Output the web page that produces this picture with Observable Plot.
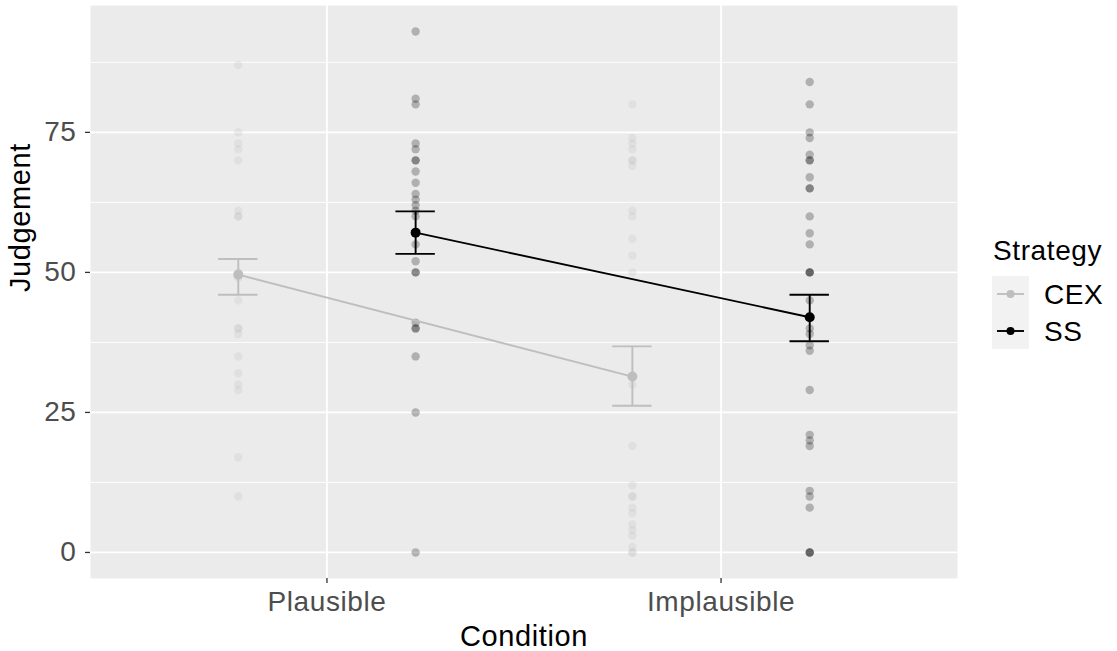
<!DOCTYPE html>
<html><head><meta charset="utf-8">
<script src="https://cdn.jsdelivr.net/npm/d3@7"></script>
<script src="https://cdn.jsdelivr.net/npm/@observablehq/plot@0.6"></script>
<style>
html,body{margin:0;padding:0;background:#fff}
#wrap{position:relative;width:1117px;height:651px;font-family:"Liberation Sans",Arial,sans-serif}
#wrap svg text{letter-spacing:0.6px}
#legend{position:absolute;left:960px;top:220px}
</style></head><body><div id="wrap"></div>
<script>
// ---- data ----
const conditions = ["Plausible", "Implausible"];
const strategies = ["CEX", "SS"];
const strategyColors = ["#bebebe", "#000000"];
const yTicks = [0, 25, 50, 75];
const yMinor = [12.5, 37.5, 62.5, 87.5];

// individual judgements
const cexPlausible   = [87, 75, 73, 72, 70, 61, 60, 60, 50, 49, 45, 40, 40, 39, 35, 32, 30, 29, 17, 10];
const ssPlausible    = [93, 81, 80, 73, 72, 70, 70, 68, 66, 64, 63, 62, 61, 60, 55, 52, 50, 50, 41, 40, 40, 35, 25, 0];
const cexImplausible = [80, 74, 73, 72, 70, 70, 69, 61, 60, 56, 53, 50, 30, 19, 12, 10, 10, 8, 7, 5, 4, 3, 1, 0, 0];
const ssImplausible  = [84, 80, 75, 74, 71, 70, 70, 67, 65, 65, 60, 57, 55, 50, 50, 50, 45, 40, 39, 37, 36, 29, 21, 20, 19, 11, 10, 8, 0, 0, 0];

// summary: mean with error bar limits, per strategy [Plausible, Implausible]
const cexMean = [49.6, 31.4];
const cexLow  = [46.0, 26.2];
const cexHigh = [52.4, 36.8];
const ssMean  = [57.1, 42.0];
const ssLow   = [53.3, 37.7];
const ssHigh  = [60.9, 46.0];

// ---- build tables ----
const dodge = 0.225;     // position_dodge(0.9) with two groups
const capHalf = 0.05;    // errorbar width 0.1
const xPos = (cond, strat) => conditions.indexOf(cond) + 1 + (strat === "CEX" ? -dodge : dodge);

const rawSets = [
  ["Plausible", "CEX", cexPlausible],
  ["Plausible", "SS", ssPlausible],
  ["Implausible", "CEX", cexImplausible],
  ["Implausible", "SS", ssImplausible]
];
const raw = rawSets.flatMap(([condition, strategy, vals]) =>
  vals.map(v => ({condition, strategy, value: v, x: xPos(condition, strategy)})));

const summary = [];
const sumSets = {CEX: [cexMean, cexLow, cexHigh], SS: [ssMean, ssLow, ssHigh]};
for (const s of strategies) {
  conditions.forEach((c, i) => {
    const [m, lo, hi] = sumSets[s];
    summary.push({condition: c, strategy: s, mean: m[i], lo: lo[i], hi: hi[i], x: xPos(c, s)});
  });
}

const chart = Plot.plot({
  width: 1117, height: 651,
  marginLeft: 90, marginRight: 160, marginTop: 5, marginBottom: 73,
  style: {fontFamily: "Liberation Sans, Arial, sans-serif", fontSize: "28px", background: "transparent", overflow: "visible"},
  x: {type: "linear", domain: [0.4, 2.6], axis: null},
  y: {domain: [-4.65, 97.65], axis: null},
  color: {domain: strategies, range: strategyColors},
  marks: [
    Plot.frame({fill: "#ebebeb", stroke: null}),
    Plot.ruleY(yMinor, {stroke: "#ffffff", strokeWidth: 0.9}),
    Plot.ruleY(yTicks, {stroke: "#ffffff", strokeWidth: 1.8}),
    Plot.ruleX([1, 2], {stroke: "#ffffff", strokeWidth: 1.8}),
    Plot.axisY({ticks: yTicks, tickSize: 5, tickPadding: 9, label: null, stroke: "#333333", fill: "#4d4d4d", strokeWidth: 1.3}),
    Plot.axisX({ticks: [1, 2], tickFormat: i => conditions[i - 1], tickSize: 5, tickPadding: 8, label: null, stroke: "#333333", fill: "#4d4d4d", strokeWidth: 1.3}),
    Plot.dot(raw, {x: "x", y: "value", r: 4.2, fill: "strategy", fillOpacity: 0.25, stroke: null}),
    Plot.line(summary, {x: "x", y: "mean", z: "strategy", stroke: "strategy", strokeWidth: 1.9}),
    Plot.ruleX(summary, {x: "x", y1: "lo", y2: "hi", stroke: "strategy", strokeWidth: 1.9}),
    Plot.ruleY(summary, {y: "lo", x1: d => d.x - capHalf, x2: d => d.x + capHalf, stroke: "strategy", strokeWidth: 1.9}),
    Plot.ruleY(summary, {y: "hi", x1: d => d.x - capHalf, x2: d => d.x + capHalf, stroke: "strategy", strokeWidth: 1.9}),
    Plot.dot(summary, {x: "x", y: "mean", r: 5, fill: "strategy", stroke: null}),
    Plot.text(["Condition"], {text: d => d, frameAnchor: "bottom", dy: 58, lineAnchor: "middle", fill: "#000", fontSize: 29}),
    Plot.text(["Judgement"], {text: d => d, frameAnchor: "left", dx: -70, rotate: -90, lineAnchor: "middle", fill: "#000", fontSize: 29})
  ]
});
const wrap = document.getElementById("wrap");
wrap.appendChild(chart);

// ---- legend ----
const lg = d3.select(wrap).append("svg").attr("id", "legend")
  .attr("width", 157).attr("height", 140)
  .style("font-family", "Liberation Sans, Arial, sans-serif")
  .style("letter-spacing", "0.6px");
lg.append("text").attr("x", 33).attr("y", 40).attr("font-size", 28).attr("fill", "#000").text("Strategy");
lg.append("rect").attr("x", 32).attr("y", 56).attr("width", 37).attr("height", 73).attr("fill", "#f2f2f2");
strategies.forEach((s, i) => {
  const cy = 74 + i * 37;
  lg.append("line").attr("x1", 37).attr("x2", 64).attr("y1", cy).attr("y2", cy)
    .attr("stroke", strategyColors[i]).attr("stroke-width", 1.9);
  lg.append("circle").attr("cx", 50.5).attr("cy", cy).attr("r", 4).attr("fill", strategyColors[i]);
  lg.append("text").attr("x", 84).attr("y", cy + 10).attr("font-size", 28).attr("fill", "#000").text(s);
});
</script></body></html>
